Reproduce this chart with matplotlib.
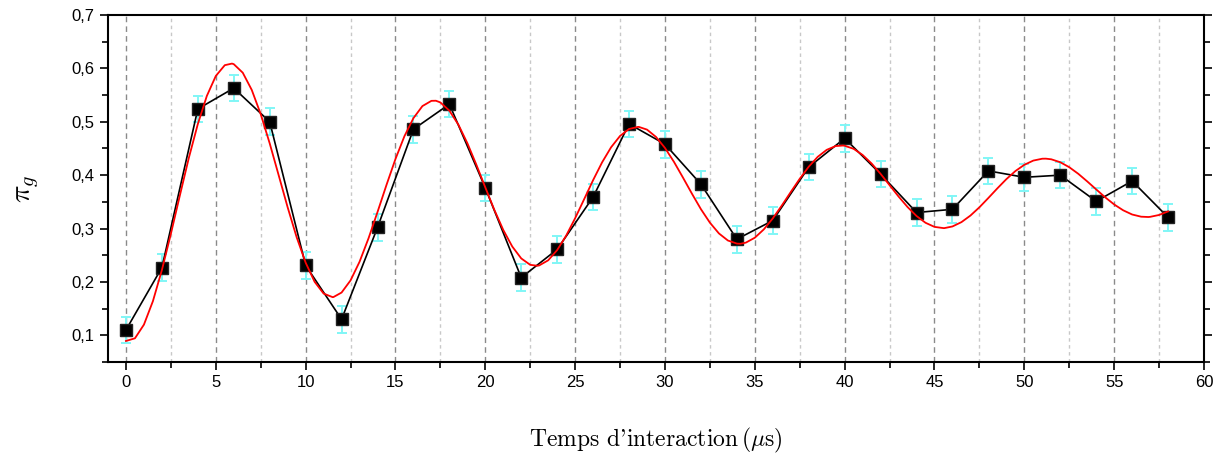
import matplotlib
matplotlib.use("Agg")
import matplotlib.pyplot as plt
from matplotlib.ticker import MultipleLocator

plt.rcParams['font.family'] = ['Liberation Sans', 'DejaVu Sans']
plt.rcParams['mathtext.fontset'] = 'cm'

# measured points (interaction time in us, pi_g)
t_data = [0, 2, 4, 6, 8, 10, 12, 14, 16, 18, 20, 22, 24, 26, 28,
          30, 32, 34, 36, 38, 40, 42, 44, 46, 48, 50, 52, 54, 56, 58]
pi_g = [0.110, 0.227, 0.524, 0.563, 0.500, 0.231, 0.130, 0.302, 0.486, 0.533,
        0.376, 0.208, 0.261, 0.359, 0.496, 0.458, 0.383, 0.280, 0.315, 0.415,
        0.469, 0.402, 0.330, 0.336, 0.408, 0.396, 0.400, 0.351, 0.389, 0.321]
pi_g_err = [0.025] * len(t_data)

# red fitted curve
t_fit = [0, 0.5, 1, 1.5, 2, 2.5, 3, 3.5, 4, 4.5, 5, 5.5, 5.9, 6, 6.5, 7, 7.5, 8, 8.5,
         9, 9.5, 10, 10.5, 11, 11.5, 11.55, 12, 12.5, 13, 13.5, 14, 14.5, 15, 15.5,
         16, 16.5, 17, 17.25, 17.5, 18, 18.5, 19, 19.5, 20, 20.5, 21, 21.5, 22, 22.5,
         22.9, 23, 23.5, 24, 24.5, 25, 25.5, 26, 26.5, 27, 27.5, 28, 28.5, 28.55, 29,
         29.5, 30, 30.5, 31, 31.5, 32, 32.5, 33, 33.5, 34, 34.2, 34.5, 35, 35.5, 36,
         36.5, 37, 37.5, 38, 38.5, 39, 39.5, 39.9, 40, 40.5, 41, 41.5, 42, 42.5, 43,
         43.5, 44, 44.5, 45, 45.5, 45.55, 46, 46.5, 47, 47.5, 48, 48.5, 49, 49.5, 50,
         50.5, 51, 51.2, 51.5, 52, 52.5, 53, 53.5, 54, 54.5, 55, 55.5, 56, 56.5, 56.9,
         57, 57.5, 58]
pi_fit = [0.0894, 0.0944, 0.1200, 0.1640, 0.2223, 0.2901, 0.3620, 0.4325, 0.4958,
          0.5483, 0.5858, 0.6060, 0.6090, 0.6079, 0.5919, 0.5597, 0.5143, 0.4595,
          0.3997, 0.3396, 0.2837, 0.2361, 0.2002, 0.1782, 0.1715, 0.1717, 0.1801,
          0.2029, 0.2377, 0.2817, 0.3309, 0.3817, 0.4303, 0.4731, 0.5068, 0.5294,
          0.5392, 0.5394, 0.5362, 0.5208, 0.4947, 0.4600, 0.4197, 0.3770, 0.3352,
          0.2973, 0.2663, 0.2440, 0.2320, 0.2303, 0.2309, 0.2405, 0.2597, 0.2867,
          0.3194, 0.3549, 0.3907, 0.4240, 0.4522, 0.4735, 0.4865, 0.4904, 0.4903,
          0.4853, 0.4716, 0.4509, 0.4249, 0.3955, 0.3653, 0.3363, 0.3110, 0.2909,
          0.2776, 0.2718, 0.2715, 0.2736, 0.2828, 0.2984, 0.3190, 0.3430, 0.3684,
          0.3932, 0.4158, 0.4343, 0.4474, 0.4545, 0.4555, 0.4551, 0.4493, 0.4378,
          0.4218, 0.4024, 0.3812, 0.3600, 0.3403, 0.3235, 0.3108, 0.3031, 0.3008,
          0.3008, 0.3039, 0.3120, 0.3243, 0.3398, 0.3573, 0.3753, 0.3925, 0.4076,
          0.4194, 0.4273, 0.4308, 0.4309, 0.4297, 0.4242, 0.4149, 0.4026, 0.3883,
          0.3733, 0.3585, 0.3451, 0.3342, 0.3263, 0.3222, 0.3216, 0.3219, 0.3254,
          0.3321]

y_ticks = [0.1, 0.2, 0.3, 0.4, 0.5, 0.6, 0.7]
y_tick_labels = ['0,1', '0,2', '0,3', '0,4', '0,5', '0,6', '0,7']
x_ticks = list(range(0, 61, 5))

fig = plt.figure(figsize=(12.3, 4.55), dpi=100)
ax = fig.add_axes([108 / 1230, 1 - 362 / 455, 1096 / 1230, 347 / 455])

ax.errorbar(t_data, pi_g, yerr=pi_g_err, fmt='none', ecolor='#80f6f6',
            elinewidth=1.4, capsize=3.8, capthick=1.4, zorder=3)
ax.plot(t_data, pi_g, color='black', lw=1.2, zorder=4)
ax.plot(t_data, pi_g, 's', color='black', ms=8.5, mec='#222222', zorder=5)
ax.plot(t_fit, pi_fit, color='#ff0000', lw=1.3, zorder=6)

ax.set_xlim(-1, 60)
ax.set_ylim(0.05, 0.7)

ax.set_xticks(x_ticks)
ax.xaxis.set_minor_locator(MultipleLocator(2.5))
ax.set_yticks(y_ticks)
ax.set_yticklabels(y_tick_labels)
ax.yaxis.set_minor_locator(MultipleLocator(0.05))

# vertical grid only
ax.grid(True, axis='x', which='major', color='#8a8a8a', ls=(0, (4, 3)), lw=1.0)
ax.grid(True, axis='x', which='minor', color='#c8c8c8', ls=(0, (2.5, 2.5)), lw=1.0)
ax.set_axisbelow(True)

ax.tick_params(axis='both', which='both', direction='out', width=1.2, labelsize=12)
ax.tick_params(axis='both', which='major', length=6)
ax.tick_params(axis='both', which='minor', length=4.5)
ax.tick_params(axis='y', which='both', right=True, left=True)
ax.tick_params(axis='x', which='both', top=False)
for sp in ax.spines.values():
    sp.set_linewidth(1.5)

ax.set_xlabel("Temps d'interaction$\\,(\\mu$s)", family='cmr10', fontsize=17, labelpad=26)
ax.set_ylabel('$\\pi_g$', fontsize=21, labelpad=22)

fig.savefig('out.png', dpi=100)
